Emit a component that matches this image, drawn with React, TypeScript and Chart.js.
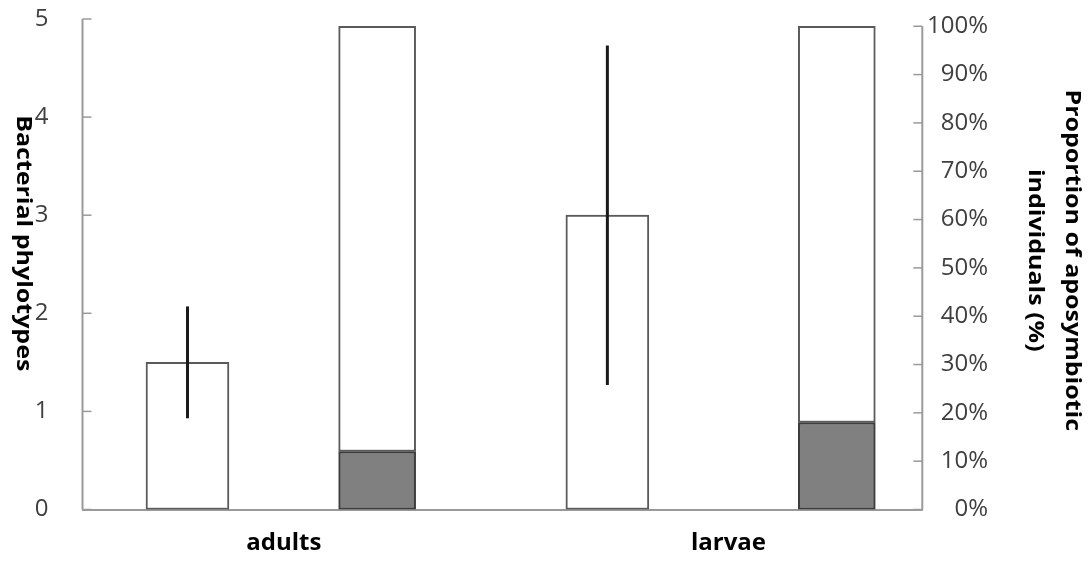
import React, { useEffect, useRef } from 'react';
import { Chart, registerables } from 'chart.js';

Chart.register(...registerables);

// ---- data ----
const categories = ['adults', 'larvae'];
const phylotypes = [1.5, 3.0];
const phylotypesError = [0.57, 1.73];
const aposymbioticPct = [12, 18];
const symbioticPct = [88, 82];
const leftTickValues = [0, 1, 2, 3, 4, 5];
const rightTickValues = [0, 10, 20, 30, 40, 50, 60, 70, 80, 90, 100];
const leftTitle = 'Bacterial phylotypes';
const rightTitleLines = ['Proportion of aposymbiotic', 'individuals (%)'];

// ---- style ----
const FONT = '"Open Sans", "DejaVu Sans", sans-serif';
const AXIS_COLOR = '#9a9a9a';
const TICK_COLOR = '#404040';
const BAR_EDGE = '#5a5a5a';

const decorPlugin = {
  id: 'decor',
  beforeDatasetsDraw(chart: any) {
    const { ctx, chartArea } = chart;
    const yl = chart.scales.y;
    const yr = chart.scales.y2;
    ctx.save();
    ctx.strokeStyle = AXIS_COLOR;
    ctx.lineWidth = 2;
    // left axis line + inward ticks
    const lx = chartArea.left;
    ctx.beginPath();
    ctx.moveTo(lx, yl.getPixelForValue(leftTickValues[0]));
    ctx.lineTo(lx, yl.getPixelForValue(leftTickValues[leftTickValues.length - 1]));
    ctx.stroke();
    ctx.lineWidth = 1.5;
    leftTickValues.forEach((v) => {
      const py = yl.getPixelForValue(v);
      ctx.beginPath();
      ctx.moveTo(lx, py);
      ctx.lineTo(lx + 9, py);
      ctx.stroke();
    });
    // right axis line + inward ticks
    const rx = chartArea.right;
    ctx.lineWidth = 2;
    ctx.beginPath();
    ctx.moveTo(rx, yr.getPixelForValue(rightTickValues[0]));
    ctx.lineTo(rx, yr.getPixelForValue(rightTickValues[rightTickValues.length - 1]));
    ctx.stroke();
    ctx.lineWidth = 1.5;
    rightTickValues.forEach((v) => {
      const py = yr.getPixelForValue(v);
      ctx.beginPath();
      ctx.moveTo(rx, py);
      ctx.lineTo(rx - 9, py);
      ctx.stroke();
    });
    ctx.restore();
  },
  afterDatasetsDraw(chart: any) {
    const { ctx } = chart;
    const yl = chart.scales.y;
    const meta = chart.getDatasetMeta(0);
    ctx.save();
    ctx.strokeStyle = '#1a1a1a';
    ctx.lineWidth = 3;
    meta.data.forEach((bar: any, i: number) => {
      const top = yl.getPixelForValue(phylotypes[i] + phylotypesError[i]);
      const bottom = yl.getPixelForValue(phylotypes[i] - phylotypesError[i]);
      ctx.beginPath();
      ctx.moveTo(bar.x, top);
      ctx.lineTo(bar.x, bottom);
      ctx.stroke();
    });
    ctx.restore();
  },
  afterDraw(chart: any) {
    const { ctx, chartArea } = chart;
    const yl = chart.scales.y;
    const midY = (chartArea.top + chartArea.bottom) / 2;
    const drawRot = (text: string, cx: number, cy: number) => {
      ctx.save();
      ctx.translate(cx, cy);
      ctx.rotate(Math.PI / 2);
      ctx.scale(1, 0.86);
      ctx.fillText(text, 0, 0);
      ctx.restore();
    };
    ctx.save();
    ctx.fillStyle = '#000';
    ctx.font = `bold 25px ${FONT}`;
    ctx.textAlign = 'center';
    ctx.textBaseline = 'middle';
    drawRot(leftTitle, yl.left + 23, midY - 21);
    rightTitleLines.forEach((line, i) => drawRot(line, chart.width - 20 - i * 37, midY - 4));
    ctx.restore();
  },
};

export default function App() {
  const canvasRef = useRef<HTMLCanvasElement | null>(null);

  useEffect(() => {
    if (!canvasRef.current) return;
    const chart = new Chart(canvasRef.current, {
      type: 'bar',
      data: {
        datasets: [
          {
            label: 'Bacterial phylotypes',
            data: categories.map((_, i) => ({ x: i, y: phylotypes[i] })),
            xAxisID: 'xw',
            yAxisID: 'y',
            stack: 'phylotypes',
            grouped: false,
            backgroundColor: '#ffffff',
            borderColor: BAR_EDGE,
            borderWidth: 2,
            borderSkipped: false,
            barThickness: 83,
          },
          {
            label: 'Aposymbiotic',
            data: categories.map((_, i) => ({ x: i, y: aposymbioticPct[i] })),
            xAxisID: 'xs',
            yAxisID: 'y2',
            stack: 'proportion',
            grouped: false,
            backgroundColor: '#808080',
            borderColor: '#3c3c3c',
            borderWidth: 2,
            borderSkipped: false,
            barThickness: 77,
          },
          {
            label: 'Symbiotic',
            data: categories.map((_, i) => ({ x: i, y: symbioticPct[i] })),
            xAxisID: 'xs',
            yAxisID: 'y2',
            stack: 'proportion',
            grouped: false,
            backgroundColor: '#ffffff',
            borderColor: BAR_EDGE,
            borderWidth: 2,
            borderSkipped: false,
            barThickness: 77,
          },
        ],
      },
      options: {
        animation: false,
        responsive: false,
        events: [],
        layout: { padding: { top: 19, left: 0, right: 104, bottom: 0 } },
        plugins: { legend: { display: false }, tooltip: { enabled: false } },
        scales: {
          x: {
            type: 'linear',
            position: 'bottom',
            offset: false,
            min: -0.453,
            max: 1.436,
            afterBuildTicks: (scale: any) => {
              scale.ticks = categories.map((_, i) => ({ value: i }));
            },
            afterFit: (scale: any) => {
              scale.height = 51.5;
              scale.paddingLeft = 0;
              scale.paddingRight = 0;
            },
            grid: { display: false },
            border: { display: true, color: AXIS_COLOR, width: 2 },
            ticks: {
              autoSkip: false,
              maxRotation: 0,
              padding: 11,
              color: '#000',
              font: { family: FONT, size: 24, weight: 'bold' },
              callback: (v: any) => categories[Number(v)] ?? '',
            },
          },
          xw: { type: 'linear', display: false, offset: false, min: -0.25, max: 1.75 },
          xs: { type: 'linear', display: false, offset: false, min: -0.641, max: 1.186 },
          y: {
            type: 'linear',
            position: 'left',
            min: 0,
            max: 5,
            afterBuildTicks: (scale: any) => {
              scale.ticks = leftTickValues.map((v) => ({ value: v }));
            },
            afterFit: (scale: any) => {
              scale.width = 82.5;
              scale.paddingTop = 0;
              scale.paddingBottom = 0;
            },
            grid: { display: false },
            border: { display: false },
            ticks: {
              padding: 26,
              color: TICK_COLOR,
              font: { family: FONT, size: 24 },
            },
          },
          y2: {
            type: 'linear',
            position: 'right',
            stacked: true,
            min: 0,
            max: 101.5,
            afterBuildTicks: (scale: any) => {
              scale.ticks = rightTickValues.map((v) => ({ value: v }));
            },
            afterFit: (scale: any) => {
              scale.width = 65.7;
              scale.paddingTop = 0;
              scale.paddingBottom = 0;
            },
            grid: { display: false },
            border: { display: false },
            ticks: {
              padding: 5,
              crossAlign: 'far',
              color: TICK_COLOR,
              font: { family: FONT, size: 24 },
              callback: (v: any) => `${v}%`,
            },
          },
        },
      },
      plugins: [decorPlugin],
    } as any);
    return () => chart.destroy();
  }, []);

  return (
    <div style={{ position: 'fixed', left: 0, top: 0, width: 1092, height: 561, background: '#fff' }}>
      <canvas ref={canvasRef} width={1092} height={561} style={{ display: 'block' }} />
    </div>
  );
}
